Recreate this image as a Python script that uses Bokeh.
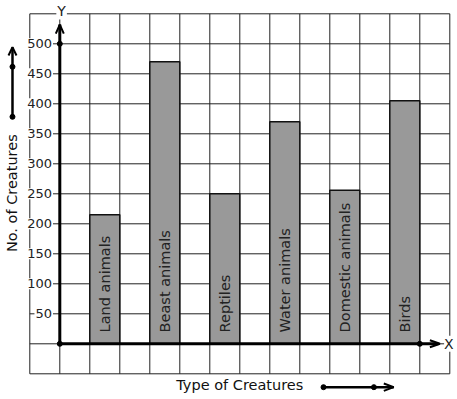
import math
from bokeh.plotting import figure
from bokeh.models import ColumnDataSource, Range1d
from bokeh.core.properties import value
from bokeh.embed import file_html
from bokeh.resources import INLINE

# ---- data ----
categories = ["Land animals", "Beast animals", "Reptiles", "Water animals", "Domestic animals", "Birds"]
counts = [215, 470, 250, 370, 256, 405]
y_ticks = [50, 100, 150, 200, 250, 300, 350, 400, 450, 500]
y_tick_labels = ["50", "100", "150", "200", "250", "300", "350", "400", "450", "500"]
x_title = "Type of Creatures"
y_title = "No. of Creatures"

# grid extents (data units: 1 x-unit per cell, 50 per row)
grid_x = list(range(-1, 14))
grid_y = list(range(-50, 551, 50))

FONT = "DejaVu Sans"
W, H = 457, 399
XU = 30.0   # px per x unit
YU = 0.6    # px per y unit
x0 = -59.3 / XU
y0 = -(H - 343.3) / YU

p = figure(width=W, height=H, output_backend="svg", toolbar_location=None,
           x_range=Range1d(x0, x0 + W / XU), y_range=Range1d(y0, y0 + H / YU),
           min_border=0)
p.axis.visible = False
p.grid.visible = False
p.outline_line_color = None
p.background_fill_color = "white"
p.border_fill_color = "white"

# grid lines
p.segment(x0=grid_x, y0=[grid_y[0]] * len(grid_x), x1=grid_x, y1=[grid_y[-1]] * len(grid_x),
          line_color="#222222", line_width=1)
p.segment(x0=[grid_x[0]] * len(grid_y), y0=grid_y, x1=[grid_x[-1]] * len(grid_y), y1=grid_y,
          line_color="#222222", line_width=1)

# bars
lefts = [2 * i + 1 for i in range(len(categories))]
src = ColumnDataSource(dict(left=lefts, right=[l + 1 for l in lefts], top=counts,
                            bottom=[0] * len(counts), cx=[l + 0.5 for l in lefts],
                            ty=[19] * len(counts), name=categories))
p.quad(left="left", right="right", bottom="bottom", top="top", source=src,
       fill_color="#999999", line_color="#111111", line_width=1.5)
p.text(x="cx", y="ty", text="name", source=src, angle=math.pi / 2,
       text_align="left", text_baseline="middle", text_font=value(FONT),
       text_font_size="14.5px", text_color="#222222")

# y axis with arrow
top_tip = 532
p.line(x=[0, 0], y=[0, top_tip], line_color="black", line_width=3)
p.multi_line(xs=[[-4 / XU, 0, 4 / XU]], ys=[[top_tip - 9 / YU, top_tip, top_tip - 9 / YU]],
             line_color="black", line_width=2)

# x axis with arrow
right_tip = 12.67
p.line(x=[0, right_tip - 0.05], y=[0, 0], line_color="black", line_width=3)
p.multi_line(xs=[[right_tip - 10 / XU, right_tip, right_tip - 10 / XU]],
             ys=[[3.5 / YU, 0, -3.5 / YU]], line_color="black", line_width=2)

p.scatter(x=[0, 0, 12], y=[0, 500, 0], size=5, color="black")

# tick labels
p.text(x=[-0.227] * len(y_ticks), y=y_ticks, text=y_tick_labels, text_align="right",
       text_baseline="middle", text_font=value(FONT), text_font_size="13px",
       text_color="#222222", background_fill_color="white", padding=1)

# axis letters
p.text(x=[0.06], y=[555.5], text=["Y"], text_align="center", text_baseline="middle",
       text_font=value(FONT), text_font_size="14px", text_color="#222222",
       background_fill_color="white", padding=1)
p.text(x=[12.97], y=[0], text=["X"], text_align="center", text_baseline="middle",
       text_font=value(FONT), text_font_size="14px", text_color="#222222",
       background_fill_color="white", padding=0)

# titles
p.text(x=[6.0], y=[-68], text=[x_title], text_align="center", text_baseline="middle",
       text_font=value(FONT), text_font_size="14.5px", text_color="#111111")
p.text(x=[-1.577], y=[251], text=[y_title], angle=math.pi / 2, text_align="center",
       text_baseline="middle", text_font=value(FONT), text_font_size="14.5px",
       text_color="#111111")

# decorative arrows next to titles
ax = -1.577
p.line(x=[ax, ax], y=[378.3, 494.3], line_color="black", line_width=2.5)
p.multi_line(xs=[[ax - 4 / XU, ax, ax + 4 / XU]], ys=[[480.5, 494.3, 480.5]],
             line_color="black", line_width=2)
p.scatter(x=[ax, ax], y=[378.3, 461.7], size=5, color="black")

by = -72.3
p.line(x=[8.79, 11.13], y=[by, by], line_color="black", line_width=2.5)
p.multi_line(xs=[[10.8, 11.13, 10.8]], ys=[[by + 6.2, by, by - 6.2]],
             line_color="black", line_width=2)
p.scatter(x=[8.79, 10.47], y=[by, by], size=5, color="black")

open("out.html", "w").write(file_html(p, INLINE))
